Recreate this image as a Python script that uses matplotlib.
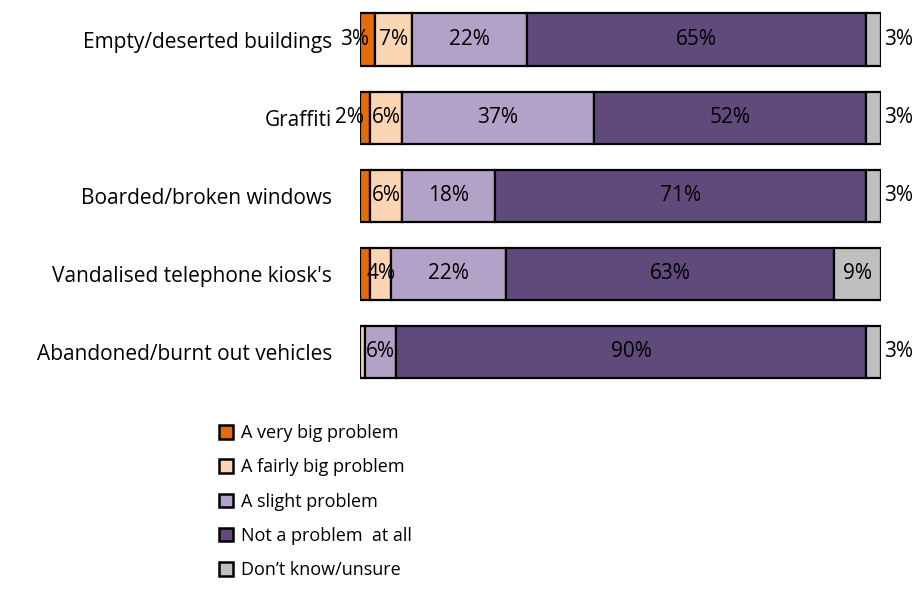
import matplotlib
matplotlib.use('Agg')
import matplotlib.pyplot as plt
from matplotlib.patches import Patch

plt.rcParams['font.family'] = ['Open Sans', 'DejaVu Sans']

# survey answers, top bar first
categories = ['Empty/deserted buildings', 'Graffiti', 'Boarded/broken windows',
              "Vandalised telephone kiosk's", 'Abandoned/burnt out vehicles']
responses = ['A very big problem', 'A fairly big problem', 'A slight problem',
             'Not a problem  at all', 'Don\u2019t know/unsure']
very_big = [3, 2, 2, 2, 0]
fairly_big = [7, 6, 6, 4, 1]
slight = [22, 37, 18, 22, 6]
not_problem = [65, 52, 71, 63, 90]
dont_know = [3, 3, 3, 9, 3]
# which segments carry a data label
show_label = [[1, 1, 1, 1, 1],
              [1, 1, 1, 1, 1],
              [0, 1, 1, 1, 1],
              [0, 1, 1, 1, 1],
              [0, 0, 1, 1, 1]]

colors = ['#E46C0A', '#FCD5B5', '#B3A2C7', '#604A7B', '#BFBFBF']
series = [very_big, fairly_big, slight, not_problem, dont_know]
FS = 15

fig = plt.figure(figsize=(9.18, 5.94), dpi=100)
ax = fig.add_axes([0.392, 0.342, 0.568, 0.657])

ypos = list(range(len(categories)))
left = [0] * len(categories)
for k, vals in enumerate(series):
    bars = ax.barh(ypos, vals, left=left, height=0.67, color=colors[k],
                   edgecolor='black', linewidth=1.6)
    for i, (b, v) in enumerate(zip(bars, vals)):
        if not show_label[i][k]:
            continue
        txt = '%d%%' % round(v)
        cy = b.get_y() + b.get_height() / 2
        if k == 0:
            ax.text(b.get_x() + b.get_width() - 1.2, cy, txt, ha='right',
                    va='center', fontsize=FS)
        elif k == 4 and v < 5:
            ax.text(b.get_x() + b.get_width() + 0.6, cy, txt, ha='left',
                    va='center', fontsize=FS)
        else:
            ax.text(b.get_x() + b.get_width() / 2, cy, txt, ha='center',
                    va='center', fontsize=FS)
    left = [l + v for l, v in zip(left, vals)]

ax.set_xlim(0, 100)
ax.set_ylim(len(categories) - 0.5, -0.5)
ax.set_yticks(ypos)
ax.set_yticklabels(categories, fontsize=15)
ax.tick_params(axis='y', length=0, pad=20)
ax.set_xticks([])
for s in ax.spines.values():
    s.set_visible(False)

handles = [Patch(facecolor=c, edgecolor='black', linewidth=1.8) for c in colors]
fig.legend(handles, responses, loc='upper left', bbox_to_anchor=(0.231, 0.298),
           frameon=False, fontsize=13, handlelength=0.78, handleheight=0.78,
           handletextpad=0.4, labelspacing=0.9, borderaxespad=0)

fig.savefig('out.png', dpi=100)
